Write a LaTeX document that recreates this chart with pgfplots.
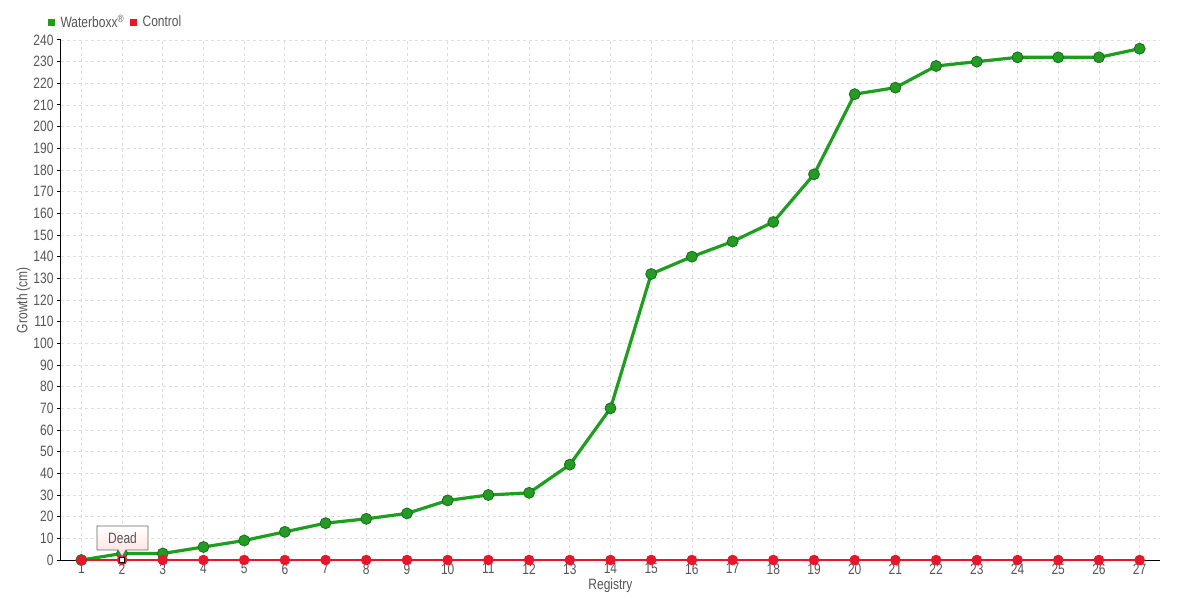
\documentclass[border=0pt]{standalone}
\usepackage{pgfplots}
\pgfplotsset{compat=1.18}
\usepackage{fontspec}
\setmainfont{Liberation Sans}[FakeStretch=0.8]

\definecolor{wbline}{HTML}{1E9E1E}
\definecolor{wbmark}{HTML}{259A25}
\definecolor{wbedge}{HTML}{17701A}
\definecolor{ctrl}{HTML}{E8162C}
\definecolor{txt}{HTML}{555555}

\begin{document}
\begin{tikzpicture}[x=1pt,y=1pt]
\useasboundingbox (-61,-40) rectangle (1119,560);
\begin{axis}[
    at={(0,0)}, anchor=origin,
    scale only axis,
    width=1099pt, height=520pt,
    xmin=0.5, xmax=27.5,
    ymin=0, ymax=240,
    xtick={1,...,27},
    ytick={0,10,...,240},
    axis x line*=bottom,
    axis y line*=left,
    axis line style={black, line width=1pt, -},
    x tick style={draw=none},
    y tick style={black, line width=1pt},
    tick align=outside,
    major tick length=4pt,
    grid=major,
    grid style={dashed, gray!25, line width=0.8pt},
    ticklabel style={font=\fontsize{15}{15}\selectfont, text=txt},
    /pgf/number format/assume math mode=true,
    xticklabel style={yshift=4pt},
    xlabel={Registry},
    ylabel={Growth (cm)},
    label style={font=\fontsize{15}{15}\selectfont, text=txt},
    xlabel style={yshift=2pt},
    ylabel style={yshift=-4pt},
    legend style={at={(-13pt,538pt)}, anchor=west, draw=none, fill=none,
        font=\fontsize{15}{15}\selectfont, text=txt,
        column sep=4pt, inner sep=0pt},
    legend columns=2,
    legend cell align=left,
    clip=false,
]
\addlegendimage{legend image code/.code={\fill[wbline] (0pt,-3pt) rectangle (6pt,3pt);}}
\addlegendentry{Waterboxx\textsuperscript{\textregistered}}
\addlegendimage{legend image code/.code={\fill[ctrl] (0pt,-3pt) rectangle (6pt,3pt);}}
\addlegendentry{Control}

\addplot[wbline, line width=3.2pt, mark=*, mark size=5.5pt,
    mark options={fill=wbmark, draw=wbedge, line width=0.8pt}, forget plot]
coordinates {
(1,0) (2,3) (3,3) (4,6) (5,9) (6,13) (7,17) (8,19) (9,21.5) (10,27.5)
(11,30) (12,31) (13,44) (14,70) (15,132) (16,140) (17,147) (18,156)
(19,178) (20,215) (21,218) (22,228) (23,230) (24,232) (25,232) (26,232) (27,236)
};
\addplot[ctrl, line width=1.5pt, mark=*, mark size=4.5pt,
    mark options={fill=ctrl, draw=ctrl}, forget plot]
coordinates {
(1,0) (2,0) (3,0) (4,0) (5,0) (6,0) (7,0) (8,0) (9,0) (10,0)
(11,0) (12,0) (13,0) (14,0) (15,0) (16,0) (17,0) (18,0)
(19,0) (20,0) (21,0) (22,0) (23,0) (24,0) (25,0) (26,0) (27,0)
};
\coordinate (dead) at (axis cs:2,0);
\end{axis}

% callout box, drawn over the plots
\shade[top color=white, bottom color=red!13, draw=gray!80!black, line width=0.8pt]
    ([xshift=-25pt,yshift=10pt]dead) -- ([xshift=-4pt,yshift=10pt]dead)
    -- ([yshift=3pt]dead) -- ([xshift=4pt,yshift=10pt]dead)
    -- ([xshift=26pt,yshift=10pt]dead) -- ([xshift=26pt,yshift=34pt]dead)
    -- ([xshift=-25pt,yshift=34pt]dead) -- cycle;
\node[font=\fontsize{15}{15}\selectfont, text=txt] at ([xshift=0.5pt,yshift=22pt]dead) {Dead};
\fill[white, draw=black, line width=0.9pt] ([xshift=-2.5pt,yshift=-2.5pt]dead) rectangle ([xshift=2.5pt,yshift=2.5pt]dead);
\end{tikzpicture}
\end{document}
